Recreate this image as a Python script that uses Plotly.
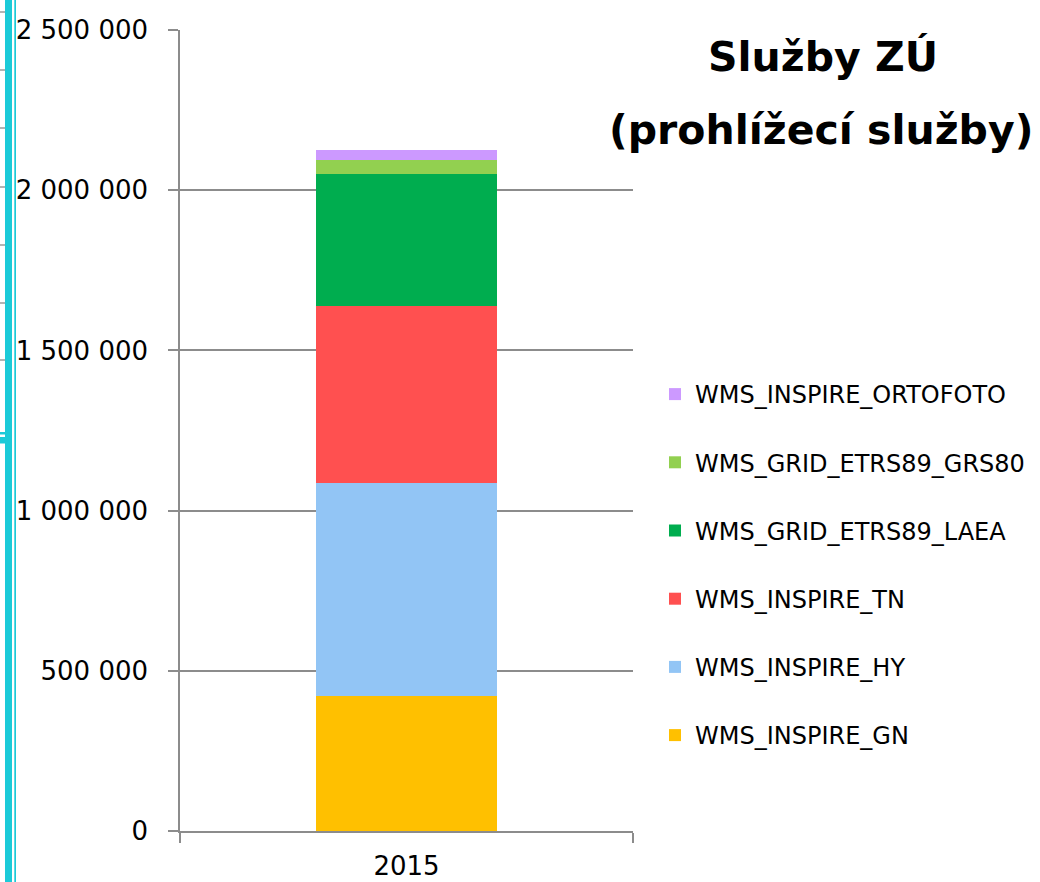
import plotly.graph_objects as go

# ---- data ----
categories = ["2015"]
series_names = [
    "WMS_INSPIRE_GN",
    "WMS_INSPIRE_HY",
    "WMS_INSPIRE_TN",
    "WMS_GRID_ETRS89_LAEA",
    "WMS_GRID_ETRS89_GRS80",
    "WMS_INSPIRE_ORTOFOTO",
]
gn = [422000]
hy = [663000]
tn = [553000]
laea = [414000]
grs80 = [43000]
ortofoto = [29000]
series_values = [gn, hy, tn, laea, grs80, ortofoto]
colors = ["#FFC000", "#92C5F5", "#FF5050", "#00AD4F", "#92D050", "#CC99FF"]
y_tickvals = [0, 500000, 1000000, 1500000, 2000000, 2500000]

# ---- layout geometry (pixels) ----
W, H = 1040, 882
L, R, T, B = 180, 407, 30, 51
PW = W - L - R
PH = H - T - B


def px(x):
    return (x - L) / PW


def py(y):
    return (H - B - y) / PH


fig = go.Figure()
n = len(series_names)
for i, (name, vals, col) in enumerate(zip(series_names, series_values, colors)):
    fig.add_trace(go.Bar(
        x=categories, y=vals, name=name, marker_color=col,
        marker_line_width=0, width=0.4, legendgroup=name,
        legendrank=n - i,
    ))

grid_col = "#8C8C8C"
font_family = "DejaVu Sans"

fig.update_layout(
    width=W, height=H,
    margin=dict(l=L, r=R, t=T, b=B, autoexpand=False),
    barmode="stack",
    plot_bgcolor="white", paper_bgcolor="white",
    separators=", ",
    font=dict(family=font_family, size=26, color="black"),
    showlegend=True,
    legend=dict(
        x=px(655), y=py(372), xanchor="left", yanchor="top",
        traceorder="grouped", tracegroupgap=34,
        font=dict(family=font_family, size=24, color="black"),
        bgcolor="rgba(0,0,0,0)",
    ),
    xaxis=dict(
        type="category", showline=True, linecolor=grid_col, linewidth=1.5,
        ticks="outside", tickson="boundaries", ticklen=10, tickcolor=grid_col,
        tickwidth=1.5, showgrid=False, ticklabelstandoff=11, automargin=False,
        tickfont=dict(family=font_family, size=26),
    ),
    yaxis=dict(
        range=[0, 2500000], tickvals=y_tickvals, tickformat=",",
        showline=True, linecolor=grid_col, linewidth=1.5,
        ticks="outside", ticklen=10, tickcolor=grid_col, tickwidth=1.5,
        showgrid=True, gridcolor=grid_col, gridwidth=1.5, zeroline=False,
        ticklabelstandoff=15, automargin=False,
        tickfont=dict(family=font_family, size=26),
    ),
)

# title (two lines, bold)
fig.add_annotation(text="<b>Služby ZÚ</b>", xref="paper", yref="paper",
                   x=px(823), y=py(57), showarrow=False,
                   xanchor="center", yanchor="middle",
                   font=dict(family=font_family, size=41, color="black"))
fig.add_annotation(text="<b>(prohlížecí služby)</b>", xref="paper", yref="paper",
                   x=px(821), y=py(130), showarrow=False,
                   xanchor="center", yanchor="middle",
                   font=dict(family=font_family, size=41, color="black"))

# slide decoration on the left edge
cyan = "#1BCAD8"
fig.add_shape(type="rect", xref="paper", yref="paper", x0=px(5), x1=px(12),
              y0=py(882), y1=py(0), fillcolor=cyan, line_width=0, layer="above")
fig.add_shape(type="rect", xref="paper", yref="paper", x0=px(14.3), x1=px(16),
              y0=py(882), y1=py(0), fillcolor=cyan, line_width=0, layer="above")
fig.add_shape(type="rect", xref="paper", yref="paper", x0=px(0), x1=px(5),
              y0=py(434.5), y1=py(432), fillcolor=cyan, line_width=0, layer="above")
fig.add_shape(type="rect", xref="paper", yref="paper", x0=px(0), x1=px(5),
              y0=py(443.5), y1=py(437), fillcolor=cyan, line_width=0, layer="above")
for yy in [12, 70, 128, 187, 245, 303, 360]:
    fig.add_shape(type="line", xref="paper", yref="paper", x0=px(0), x1=px(5),
                  y0=py(yy), y1=py(yy), line=dict(color="#9A9A9A", width=1.5),
                  layer="above")

fig.write_html("out.html", config={"displayModeBar": False},
               post_script="document.body.style.margin='0';")
